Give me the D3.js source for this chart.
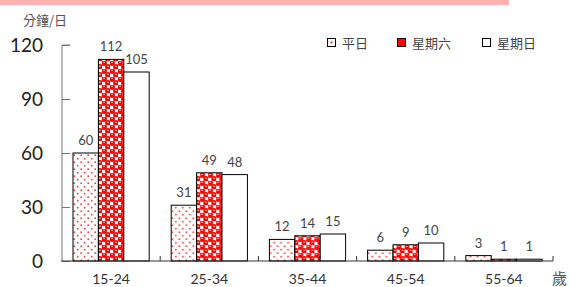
<!DOCTYPE html>
<html>
<head>
<meta charset="utf-8">
<script src="https://cdn.jsdelivr.net/npm/d3@7"></script>
<style>
  body { margin: 0; background: #fff; }
  svg { display: block; font-family: 'Noto Sans CJK TC', 'Lato', sans-serif; }
</style>
</head>
<body>
<svg id="chart" width="570" height="287"></svg>
<script>
const ageGroups = ['15-24', '25-34', '35-44', '45-54', '55-64'];
const seriesNames = ['平日', '星期六', '星期日'];
const weekday = [60, 31, 12, 6, 3];
const saturday = [112, 49, 14, 9, 1];
const sunday = [105, 48, 15, 10, 1];
const yTicks = [0, 30, 60, 90, 120];

const seriesValues = [weekday, saturday, sunday];
const fills = ['url(#dots)', 'url(#balls)', '#fff'];

const margin = { top: 45, right: 17, bottom: 26, left: 62 };
const width = 570 - margin.left - margin.right;
const height = 287 - margin.top - margin.bottom;

const svg = d3.select('#chart');

// patterns
const defs = svg.append('defs');
const dots = defs.append('pattern')
  .attr('id', 'dots').attr('patternUnits', 'userSpaceOnUse')
  .attr('width', 7).attr('height', 7);
dots.append('rect').attr('width', 7).attr('height', 7).attr('fill', '#fff');
dots.append('circle').attr('cx', 1.7).attr('cy', 1.7).attr('r', 0.9).attr('fill', '#ff3838');
dots.append('circle').attr('cx', 5.2).attr('cy', 5.2).attr('r', 0.9).attr('fill', '#ff3838');

const balls = defs.append('pattern')
  .attr('id', 'balls').attr('patternUnits', 'userSpaceOnUse')
  .attr('width', 8).attr('height', 8);
balls.append('rect').attr('width', 8).attr('height', 8).attr('fill', '#fff');
balls.append('circle').attr('cx', 2).attr('cy', 2).attr('r', 2.9).attr('fill', '#ff0000');
balls.append('circle').attr('cx', 6).attr('cy', 6).attr('r', 2.9).attr('fill', '#ff0000');
balls.append('rect').attr('x', 1).attr('y', 0.8).attr('width', 2).attr('height', 0.9).attr('fill', '#ffd0d0');
balls.append('rect').attr('x', 5).attr('y', 4.8).attr('width', 2).attr('height', 0.9).attr('fill', '#ffd0d0');

// pink band on top
svg.append('rect').attr('x', 0).attr('y', 0).attr('width', 509).attr('height', 5).attr('fill', '#ffb0b0');

const x0 = d3.scaleBand().domain(ageGroups).range([0, width]).paddingInner(0).paddingOuter(0);
const x1 = d3.scaleBand().domain(d3.range(3)).range([11, x0.bandwidth() - 11]);
const y = d3.scaleLinear().domain([0, 120]).range([height, 0]);

const g = svg.append('g').attr('transform', `translate(${margin.left},${margin.top})`);

// bars
ageGroups.forEach((age, i) => {
  const grp = g.append('g').attr('transform', `translate(${x0(age)},0)`);
  seriesValues.forEach((vals, s) => {
    grp.append('rect')
      .attr('x', x1(s))
      .attr('y', y(vals[i]))
      .attr('width', x1.bandwidth())
      .attr('height', height - y(vals[i]))
      .attr('fill', fills[s])
      .attr('stroke', '#000')
      .attr('stroke-width', 1);
    grp.append('text')
      .attr('x', x1(s) + x1.bandwidth() / 2)
      .attr('y', y(vals[i]) - 8)
      .attr('text-anchor', 'middle')
      .attr('font-family', 'Lato, sans-serif')
      .attr('font-size', 13)
      .attr('fill', '#444')
      .text(vals[i]);
  });
});

// y axis
const yAxis = g.append('g').call(d3.axisRight(y).tickValues(yTicks).tickSize(8).tickFormat(''));
yAxis.select('.domain').attr('stroke', '#777').attr('d', `M8,0H0V${height}`);
yAxis.selectAll('.tick line').attr('stroke', '#777');
g.selectAll('.ylab').data(yTicks).enter().append('text')
  .attr('x', -19).attr('y', d => y(d) + 7)
  .attr('text-anchor', 'end')
  .attr('font-family', 'Lato, sans-serif')
  .attr('font-size', 19)
  .attr('fill', '#222')
  .text(d => d);

// x axis
const xAxis = g.append('g').attr('transform', `translate(0,${height})`)
  .call(d3.axisTop(x0).tickSize(0).tickFormat(''));
xAxis.select('.domain').attr('stroke', '#333').attr('d', `M-1,0H${width}`);
const bounds = ageGroups.map(a => x0(a)).concat([width]);
g.selectAll('.xtick').data(bounds.slice(1)).enter().append('line')
  .attr('x1', d => d).attr('x2', d => d)
  .attr('y1', height).attr('y2', height - 5)
  .attr('stroke', '#333');
g.selectAll('.xlab').data(ageGroups).enter().append('text')
  .attr('x', d => x0(d) + x0.bandwidth() / 2)
  .attr('y', height + 23)
  .attr('text-anchor', 'middle')
  .attr('font-family', 'Lato, sans-serif')
  .attr('font-size', 14)
  .attr('fill', '#333')
  .text(d => d);

// axis titles
svg.append('text').attr('x', 23).attr('y', 25).attr('font-size', 13).attr('fill', '#555').text('分鐘/日');
svg.append('text').attr('x', 552).attr('y', 284).attr('font-size', 15).attr('fill', '#555').text('歲');

// legend
const legendX = [327, 397, 482];
seriesNames.forEach((name, s) => {
  svg.append('rect')
    .attr('x', legendX[s] + 0.5).attr('y', 38.5)
    .attr('width', 8).attr('height', 8)
    .attr('fill', s === 1 ? '#ff0000' : '#fff')
    .attr('stroke', '#000');
  if (s === 0) {
    svg.append('rect').attr('x', legendX[s] + 3.5).attr('y', 41.5).attr('width', 2).attr('height', 2).attr('fill', '#ff3030');
  }
  svg.append('text')
    .attr('x', legendX[s] + 15).attr('y', 47.5)
    .attr('font-size', 13).attr('fill', '#444')
    .text(name);
});
</script>
</body>
</html>
